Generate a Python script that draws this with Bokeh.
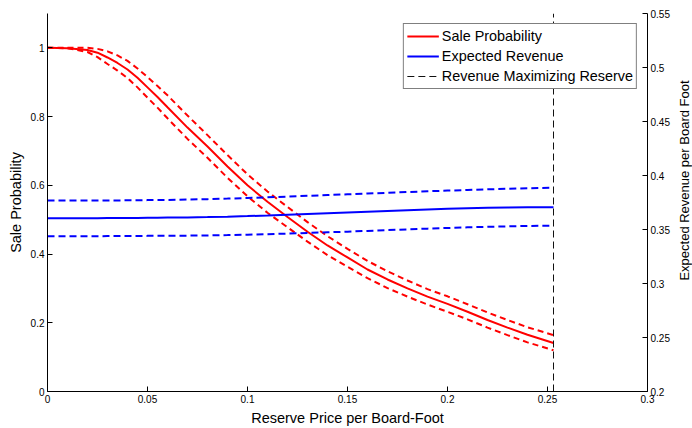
import math
from bokeh.plotting import figure
from bokeh.layouts import row
from bokeh.core.properties import value
from bokeh.models import Range1d, LinearAxis, FixedTicker, CustomJSTickFormatter, Legend, LegendItem
from bokeh.embed import file_html
from bokeh.resources import INLINE

price = [0, 0.01, 0.02, 0.025, 0.03, 0.035, 0.04, 0.045, 0.05, 0.055, 0.06, 0.07, 0.08, 0.09,
         0.10, 0.11, 0.12, 0.13, 0.14, 0.15, 0.16, 0.17, 0.18, 0.19, 0.20, 0.21, 0.22, 0.23,
         0.24, 0.253]
sale_prob = [1.0, 0.999, 0.994, 0.986, 0.972, 0.956, 0.937, 0.913, 0.885, 0.857, 0.827, 0.768,
             0.713, 0.655, 0.60, 0.552, 0.508, 0.465, 0.425, 0.39, 0.355, 0.326, 0.30, 0.276,
             0.255, 0.232, 0.208, 0.186, 0.165, 0.141]
sale_hi = [1.0, 1.0, 1.0, 0.997, 0.99, 0.978, 0.962, 0.94, 0.915, 0.889, 0.862, 0.803, 0.746,
           0.688, 0.632, 0.582, 0.537, 0.493, 0.452, 0.415, 0.38, 0.35, 0.323, 0.298, 0.277,
           0.254, 0.23, 0.208, 0.187, 0.164]
sale_lo = [1.0, 0.999, 0.988, 0.973, 0.953, 0.934, 0.912, 0.885, 0.855, 0.826, 0.795, 0.735,
           0.68, 0.622, 0.568, 0.52, 0.478, 0.436, 0.397, 0.363, 0.33, 0.301, 0.276, 0.253,
           0.232, 0.21, 0.186, 0.164, 0.143, 0.12]
revenue = [0.3605, 0.3605, 0.3605, 0.3605, 0.3606, 0.3606, 0.3607, 0.3607, 0.3608, 0.3609,
           0.3610, 0.3612, 0.3615, 0.3619, 0.3624, 0.3630, 0.3637, 0.3644, 0.3651, 0.3658,
           0.3665, 0.3672, 0.3679, 0.3686, 0.3692, 0.3697, 0.3701, 0.3704, 0.3706, 0.3707]
rev_hi = [0.3768, 0.3768, 0.3768, 0.3768, 0.3769, 0.3769, 0.3770, 0.3771, 0.3772, 0.3773,
          0.3774, 0.3777, 0.3781, 0.3786, 0.3792, 0.3798, 0.3805, 0.3812, 0.3819, 0.3826,
          0.3833, 0.3840, 0.3847, 0.3854, 0.3860, 0.3866, 0.3872, 0.3877, 0.3882, 0.3887]
rev_lo = [0.3438, 0.3438, 0.3438, 0.3438, 0.3439, 0.3439, 0.3440, 0.3440, 0.3441, 0.3441,
          0.3442, 0.3443, 0.3445, 0.3448, 0.3452, 0.3457, 0.3462, 0.3468, 0.3474, 0.3480,
          0.3487, 0.3494, 0.3501, 0.3508, 0.3514, 0.3520, 0.3525, 0.3529, 0.3533, 0.3536]
opt_reserve = [0.253]

x_ticks = [0, 0.05, 0.1, 0.15, 0.2, 0.25, 0.3]
left_ticks = [0, 0.2, 0.4, 0.6, 0.8, 1]
right_ticks = [0.2, 0.25, 0.3, 0.35, 0.4, 0.45, 0.5, 0.55]

right_label = "Expected Revenue per Board Foot"

FONT = "Liberation Sans"

p = figure(width=674, height=428, output_backend="svg", toolbar_location=None,
           x_range=Range1d(0, 0.3), y_range=Range1d(0, 1.1),
           min_border_left=47, min_border_right=27, min_border_top=13, min_border_bottom=36)
p.extra_y_ranges = {"rev": Range1d(0.2, 0.55)}
p.outline_line_color = None
p.grid.visible = False
p.background_fill_color = "white"
p.border_fill_color = "white"

fmt = CustomJSTickFormatter(code="return String(Math.round(tick*1000)/1000);")

# sale probability (left axis)
r_sale = p.line(price, sale_prob, line_color="red", line_width=2)
p.line(price, sale_hi, line_color="red", line_width=2, line_dash="6 4")
p.line(price, sale_lo, line_color="red", line_width=2, line_dash="6 4")

# expected revenue (right axis)
r_rev = p.line(price, revenue, line_color="blue", line_width=2, y_range_name="rev")
p.line(price, rev_hi, line_color="blue", line_width=2, line_dash="7 4", y_range_name="rev")
p.line(price, rev_lo, line_color="blue", line_width=2, line_dash="7 4", y_range_name="rev")

# revenue maximizing reserve
r_opt = p.segment(x0=opt_reserve, y0=[0], x1=opt_reserve, y1=[1.1],
                  line_color="#111111", line_width=1, line_dash="7 4")

def style_axis(ax):
    ax.axis_line_color = "black"
    ax.axis_line_width = 1
    ax.major_tick_in = 5
    ax.major_tick_out = 0
    ax.minor_tick_line_color = None
    ax.major_tick_line_color = "black"
    ax.major_label_text_font = FONT
    ax.major_label_text_font_size = "10px"
    ax.major_label_text_color = "black"
    ax.axis_label_text_font = FONT
    ax.axis_label_text_font_size = "14.5px"
    ax.axis_label_text_font_style = "normal"
    ax.axis_label_text_color = "black"
    ax.major_label_standoff = 3
    ax.axis_label_standoff = 4
    ax.formatter = fmt

xa = p.xaxis[0]
style_axis(xa)
xa.ticker = FixedTicker(ticks=x_ticks)
xa.axis_label = "Reserve Price per Board-Foot"

ya = p.yaxis[0]
style_axis(ya)
ya.ticker = FixedTicker(ticks=left_ticks)
ya.axis_label = "Sale Probability"

ra = LinearAxis(y_range_name="rev")
style_axis(ra)
ra.ticker = FixedTicker(ticks=right_ticks)
p.add_layout(ra, "right")

legend = Legend(items=[
    LegendItem(label="Sale Probability", renderers=[r_sale]),
    LegendItem(label="Expected Revenue", renderers=[r_rev]),
    LegendItem(label="Revenue Maximizing Reserve", renderers=[r_opt]),
], location="top_right")
legend.label_text_font = FONT
legend.label_text_font_size = "14.4px"
legend.label_text_color = "black"
legend.border_line_color = "black"
legend.border_line_width = 1
legend.background_fill_alpha = 1
legend.glyph_width = 32
legend.glyph_height = 18
legend.label_height = 18
legend.spacing = 2
legend.padding = 3
legend.margin = 10
legend.label_standoff = 3
p.add_layout(legend)

# narrow side panel carrying the right-hand axis title (reads bottom to top)
p2 = figure(width=18, height=428, output_backend="svg", toolbar_location=None,
            x_range=Range1d(0, 1), y_range=Range1d(0, 1),
            min_border_left=0, min_border_right=0, min_border_top=0, min_border_bottom=0)
p2.axis.visible = False
p2.grid.visible = False
p2.outline_line_color = None
p2.background_fill_color = "white"
p2.border_fill_color = "white"
p2.text(x=[0.5], y=[0.5], text=[right_label], angle=math.pi / 2,
        text_align="center", text_baseline="middle", x_offset=1, y_offset=-22,
        text_font=value(FONT), text_font_size="13px", text_color="black")

layout = row(p, p2, spacing=0)
open("out.html", "w").write(file_html(layout, INLINE))
